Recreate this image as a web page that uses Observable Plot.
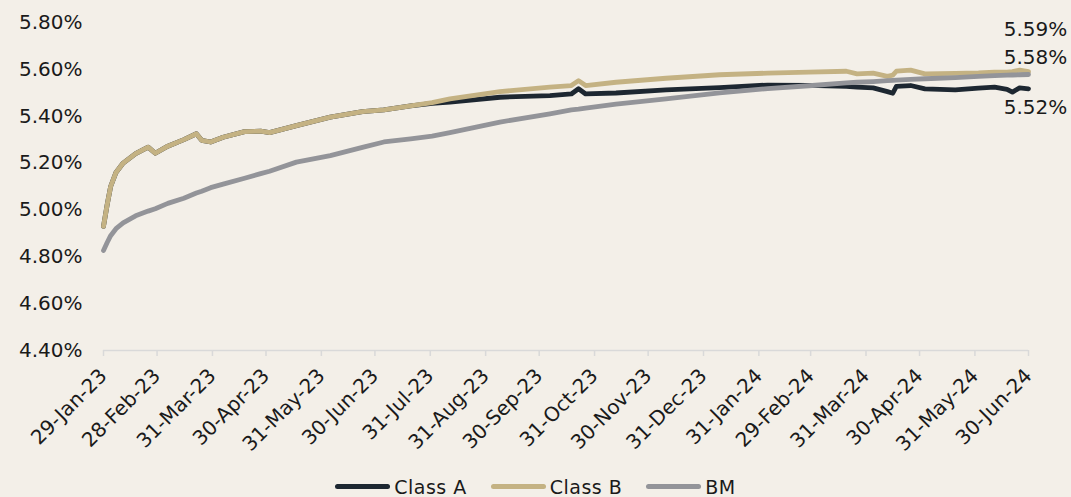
<!DOCTYPE html>
<html>
<head>
<meta charset="utf-8">
<script src="https://cdn.jsdelivr.net/npm/d3@7"></script>
<script src="https://cdn.jsdelivr.net/npm/@observablehq/plot@0.6"></script>
<style>
  html, body { margin: 0; padding: 0; background: #f3efe8; overflow: hidden; }
  #chart { width: 1071px; height: 497px; background: #f3efe8; font-family: "DejaVu Sans", sans-serif; color: #1a1a1a; }
  #chart svg g[aria-label="y-axis tick label"] text { letter-spacing: 1.4px; }
  .legend { display: flex; justify-content: center; align-items: center; height: 37px; padding-left: 0px; box-sizing: border-box; margin-top: 8px; }
  .item { display: flex; align-items: center; margin: 0 12px; font-size: 19px; letter-spacing: 0.5px; }
  .sw { width: 55px; height: 5px; border-radius: 3px; margin-right: 4px; }
</style>
</head>
<body>
<div id="chart"></div>
<script>
// ---- data ----
const dates = [
  "2023-01-29","2023-01-31","2023-02-02","2023-02-05","2023-02-09","2023-02-16","2023-02-23","2023-02-27","2023-03-06","2023-03-15",
  "2023-03-22","2023-03-25","2023-03-30","2023-04-06","2023-04-18","2023-04-27","2023-05-02","2023-05-17","2023-06-05","2023-06-23",
  "2023-07-05","2023-07-20","2023-08-01","2023-08-11","2023-09-08","2023-10-06","2023-10-18","2023-10-22","2023-10-26","2023-11-12",
  "2023-12-10","2024-01-09","2024-02-05","2024-02-28","2024-03-20","2024-03-26","2024-04-04","2024-04-12","2024-04-15","2024-04-17",
  "2024-04-25","2024-05-03","2024-05-20","2024-06-02","2024-06-11","2024-06-18","2024-06-21","2024-06-25","2024-06-30"
];
const classA = [
  4.93,5.02,5.10,5.16,5.20,5.24,5.268,5.242,5.272,5.30,
  5.325,5.297,5.29,5.31,5.334,5.336,5.330,5.36,5.396,5.42,
  5.427,5.444,5.455,5.46,5.481,5.488,5.495,5.517,5.495,5.499,
  5.512,5.522,5.533,5.532,5.527,5.524,5.521,5.505,5.498,5.527,
  5.531,5.517,5.512,5.52,5.524,5.515,5.503,5.521,5.517
];
const classB = [
  4.93,5.02,5.10,5.16,5.20,5.24,5.268,5.242,5.272,5.30,
  5.325,5.297,5.29,5.31,5.334,5.336,5.330,5.36,5.396,5.42,
  5.427,5.444,5.458,5.474,5.505,5.524,5.531,5.552,5.531,5.545,
  5.562,5.577,5.584,5.588,5.592,5.581,5.584,5.57,5.575,5.592,
  5.597,5.581,5.583,5.585,5.588,5.588,5.59,5.597,5.59
];
const bm = [
  4.827,4.86,4.89,4.92,4.945,4.975,4.995,5.005,5.028,5.05,
  5.072,5.08,5.095,5.11,5.135,5.155,5.165,5.204,5.232,5.267,
  5.29,5.303,5.315,5.33,5.375,5.41,5.427,5.43,5.435,5.452,
  5.474,5.50,5.518,5.53,5.542,5.545,5.548,5.552,5.553,5.554,
  5.557,5.56,5.565,5.57,5.573,5.575,5.576,5.577,5.578
];
const seriesNames = ["Class A", "Class B", "BM"];
const seriesColors = ["#1d2731", "#c4b283", "#939499"];
const tickDates = [
  "2023-01-29","2023-02-28","2023-03-31","2023-04-30","2023-05-31","2023-06-30","2023-07-31","2023-08-31","2023-09-30",
  "2023-10-31","2023-11-30","2023-12-31","2024-01-31","2024-02-29","2024-03-31","2024-04-30","2024-05-31","2024-06-30"
];
const yTicks = [4.4, 4.6, 4.8, 5.0, 5.2, 5.4, 5.6, 5.8];

// ---- build table ----
const parse = d3.utcParse("%Y-%m-%d");
const seriesValues = [classA, classB, bm];
const rows = seriesNames.flatMap((name, i) =>
  dates.map((d, j) => ({ series: name, date: parse(d), value: seriesValues[i][j] })));
const last = seriesNames.map((name, i) => ({
  series: name, date: parse(dates[dates.length - 1]), value: seriesValues[i][dates.length - 1],
  label: seriesValues[i][dates.length - 1].toFixed(2) + "%"
}));
const ticks = tickDates.map(parse);

const plot = Plot.plot({
  width: 1071,
  height: 460,
  marginLeft: 103,
  marginRight: 43,
  marginTop: 22,
  marginBottom: 110,
  style: { background: "transparent", fontFamily: "DejaVu Sans, sans-serif", fontSize: "20px", color: "#1a1a1a", overflow: "visible" },
  x: { type: "utc", domain: [parse("2023-01-29"), parse("2024-06-30")], label: null },
  y: { domain: [4.4, 5.8], label: null },
  color: { domain: seriesNames, range: seriesColors },
  marks: [
    Plot.ruleY([4.4], { stroke: "#d9d9d9", strokeWidth: 1.5 }),
    Plot.axisX(ticks, { tickSize: 6, stroke: "#d9d9d9", strokeWidth: 1.5, tickFormat: () => "", label: null }),
    Plot.axisX(ticks, { tickSize: 0, tickPadding: 22, tickRotate: -45, tickFormat: d3.utcFormat("%d-%b-%y"), fontSize: 20, fill: "#1a1a1a", label: null }),
    Plot.axisY(yTicks, { tickSize: 0, tickPadding: 21, tickFormat: d => d.toFixed(2) + "%", fontSize: 20, fill: "#1a1a1a", label: null, ariaLabel: "y-axis tick label" }),
    Plot.line(rows, { x: "date", y: "value", z: "series", stroke: "series", strokeWidth: 4.8, strokeLinejoin: "round", strokeLinecap: "round" }),
    Plot.text(last.filter(d => d.series === "Class B"), { x: "date", y: "value", text: "label", dx: 7, dy: -42, fontSize: 20, fill: "#1a1a1a" }),
    Plot.text(last.filter(d => d.series === "BM"), { x: "date", y: "value", text: "label", dx: 7, dy: -17, fontSize: 20, fill: "#1a1a1a" }),
    Plot.text(last.filter(d => d.series === "Class A"), { x: "date", y: "value", text: "label", dx: 7, dy: 19, fontSize: 20, fill: "#1a1a1a" })
  ]
});

const chart = document.getElementById("chart");
chart.appendChild(plot);

const legend = document.createElement("div");
legend.className = "legend";
seriesNames.forEach((name, i) => {
  const item = document.createElement("div");
  item.className = "item";
  const sw = document.createElement("div");
  sw.className = "sw";
  sw.style.background = seriesColors[i];
  const t = document.createElement("span");
  t.textContent = name;
  item.appendChild(sw);
  item.appendChild(t);
  legend.appendChild(item);
});
chart.appendChild(legend);
</script>
</body>
</html>
